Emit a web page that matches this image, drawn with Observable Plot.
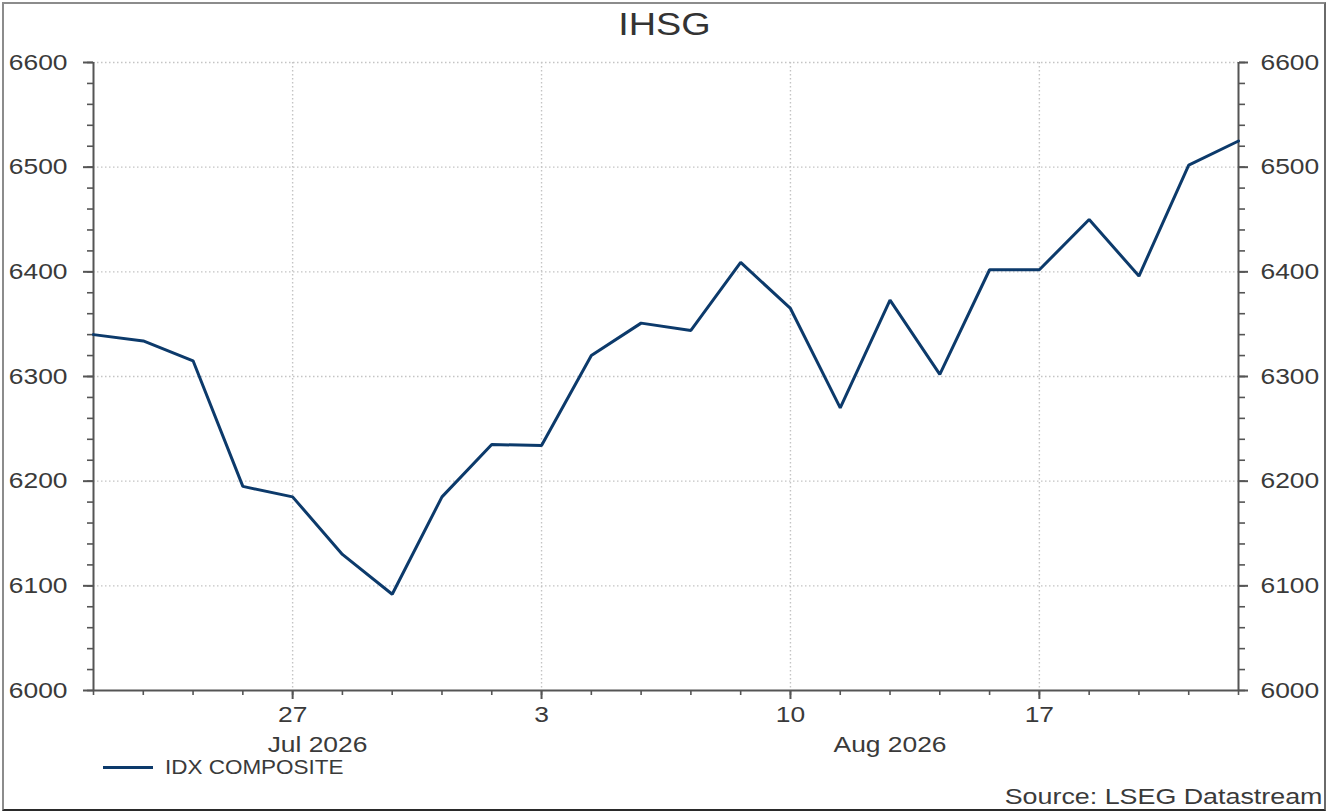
<!DOCTYPE html>
<html>
<head>
<meta charset="utf-8">
<script src="https://cdn.jsdelivr.net/npm/d3@7"></script>
<script src="https://cdn.jsdelivr.net/npm/@observablehq/plot@0.6"></script>
<style>
html, body { margin: 0; padding: 0; background: #fff; }
#wrap { position: relative; width: 1329px; height: 812px; overflow: hidden; font-family: "Liberation Sans", Arial, sans-serif; color: #3a3a3a; background: #fff; }
#chart { position: absolute; left: 0; top: 0; }
#frame { position: absolute; left: 2px; top: 2px; width: 1320px; height: 805px; border: 2px solid #8c8c8c; border-bottom-color: #2a2a2a; border-right-color: #6a6a6a; pointer-events: none; }
#title { position: absolute; left: 0; top: 8.8px; width: 1329px; text-align: center; font-size: 31px; line-height: 1; color: #333; transform: scaleX(1.22); transform-origin: 664.5px 50%; }
#legend-swatch { position: absolute; left: 103px; top: 766px; width: 50px; height: 3px; background: #0c3a6b; }
#legend-text { position: absolute; left: 165px; top: 756.2px; font-size: 21px; line-height: 1; white-space: nowrap; transform: scaleX(1.07); transform-origin: 0 50%; color: #3a3a3a; }
#source { position: absolute; right: 6.3px; top: 786.4px; font-size: 22px; line-height: 1; white-space: nowrap; transform: scaleX(1.22); transform-origin: 100% 50%; color: #3a3a3a; }
</style>
</head>
<body>
<div id="wrap">
  <div id="chart"></div>
  <div id="title">IHSG</div>
  <div id="legend-swatch"></div>
  <div id="legend-text">IDX COMPOSITE</div>
  <div id="source">Source: LSEG Datastream</div>
  <div id="frame"></div>
</div>
<script>
// ---- data (business days) ----
const dates = [
  "2026-07-21","2026-07-22","2026-07-23","2026-07-24",
  "2026-07-27","2026-07-28","2026-07-29","2026-07-30","2026-07-31",
  "2026-08-03","2026-08-04","2026-08-05","2026-08-06","2026-08-07",
  "2026-08-10","2026-08-11","2026-08-12","2026-08-13","2026-08-14",
  "2026-08-17","2026-08-18","2026-08-19","2026-08-20","2026-08-21"
];
const values = [
  6340, 6334, 6315, 6195,
  6185, 6130, 6092, 6185, 6235,
  6234, 6320, 6351, 6344, 6409,
  6365, 6270, 6373, 6302, 6402,
  6402, 6450, 6396, 6502, 6525
];
const seriesName = "IDX COMPOSITE";
const tickDates = ["2026-07-27","2026-08-03","2026-08-10","2026-08-17"];
const tickLabels = ["27","3","10","17"];
const monthStarts = ["2026-07-21","2026-08-03"];
const monthLabels = ["Jul 2026","Aug 2026"];
const yMajor = [6000,6100,6200,6300,6400,6500,6600];
const yMinor = d3.range(6000, 6601, 20);

// ---- derived ----
const n = dates.length;
const data = dates.map((d, i) => ({i, date: d, value: values[i]}));
const tickIdx = tickDates.map(d => dates.indexOf(d));
const months = monthLabels.map((label, k) => {
  const a = dates.indexOf(monthStarts[k]);
  const b = k + 1 < monthStarts.length ? dates.indexOf(monthStarts[k + 1]) : n - 1;
  return {label, mid: (a + b) / 2};
});

const axisColor = "#555";
const textColor = "#3a3a3a";
const gridOpts = {stroke: "#c4c4c4", strokeOpacity: 1, strokeWidth: 1.4, strokeDasharray: "1.5,2.5"};

const svg = Plot.plot({
  width: 1329,
  height: 812,
  marginLeft: 93,
  marginRight: 91,
  marginTop: 62,
  marginBottom: 122,
  style: {fontFamily: "'Liberation Sans', Arial, sans-serif", fontSize: "22px", color: textColor, background: "transparent"},
  x: {type: "linear", domain: [0, n - 1], label: null},
  y: {domain: [6000, 6600], label: null},
  marks: [
    Plot.gridY(yMajor.slice(1), gridOpts),
    Plot.gridX(tickIdx, gridOpts),
    Plot.axisY(yMinor, {anchor: "left", tickSize: 6, tickFormat: () => "", stroke: axisColor, strokeWidth: 1.6, label: null}),
    Plot.axisY(yMinor, {anchor: "right", tickSize: 6, tickFormat: () => "", stroke: axisColor, strokeWidth: 1.6, label: null}),
    Plot.axisY(yMajor, {anchor: "left", tickSize: 10, tickPadding: 16, tickFormat: d => String(d), stroke: axisColor, strokeWidth: 2, fill: textColor, label: null}),
    Plot.axisY(yMajor, {anchor: "right", tickSize: 9, tickPadding: 13, tickFormat: d => String(d), stroke: axisColor, strokeWidth: 2, fill: textColor, label: null}),
    Plot.axisX(d3.range(n), {anchor: "bottom", tickSize: 5, tickFormat: () => "", stroke: axisColor, strokeWidth: 1.6, label: null}),
    Plot.axisX(tickIdx, {anchor: "bottom", tickSize: 9, tickPadding: 7, tickFormat: d => tickLabels[tickIdx.indexOf(d)], stroke: axisColor, strokeWidth: 2, fill: textColor, label: null}),
    Plot.ruleX([0, n - 1], {stroke: axisColor, strokeWidth: 2}),
    Plot.ruleY([6000], {stroke: axisColor, strokeWidth: 2}),
    Plot.text(months, {x: "mid", text: "label", frameAnchor: "bottom", lineAnchor: "top", dy: 46, fill: textColor}),
    Plot.line(data, {x: "i", y: "value", stroke: "#0c3a6b", strokeWidth: 3, strokeLinejoin: "miter"})
  ]
});

// horizontal stretch of text to mimic the reference's wide glyphs
const S = 1.2;
svg.querySelectorAll("text").forEach(t => {
  const xa = t.getAttribute("x");
  let x = 0;
  if (xa !== null && /^-?[\d.]+$/.test(xa.trim())) { x = +xa; t.removeAttribute("x"); }
  const tr = t.getAttribute("transform") || "";
  t.setAttribute("transform", `${tr} translate(${x},0) scale(${S},1)`);
});

document.getElementById("chart").appendChild(svg);
document.getElementById("legend-text").textContent = seriesName;
</script>
</body>
</html>
